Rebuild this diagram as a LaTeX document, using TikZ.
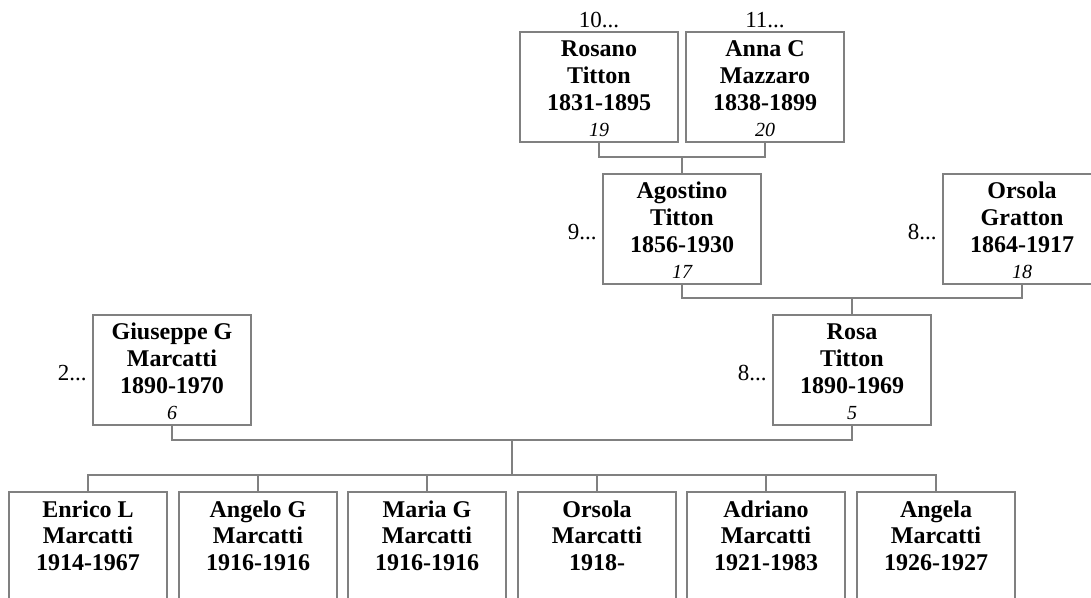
\documentclass[tikz,border=0pt]{standalone}
\usepackage{fontspec}
\setmainfont{Liberation Serif}
\usetikzlibrary{positioning}

% one box of the chart, text set from the top
\newcommand{\card}[1]{\parbox[t][55pt][t]{79pt}{\centering\rule{0pt}{12.5pt}#1}}
\newcommand{\refno}[1]{{\normalfont\itshape\fontsize{10pt}{13.3pt}\selectfont #1}}

\begin{document}
\begin{tikzpicture}[x=0.5pt,y=-0.5pt,
    person/.style={draw=black!50,line width=0.65pt,inner sep=0pt,outer sep=0pt,
                   font=\bfseries\fontsize{12pt}{13.3pt}\selectfont},
    tag/.style={inner sep=0pt,font=\fontsize{11.5pt}{13pt}\selectfont},
    link/.style={draw=black!50,line width=0.65pt}
  ]
  \clip (0,0) rectangle (1091,598);

  % great-grandparents
  \node[person] (rosano) at (599,87) {\card{Rosano\\Titton\\1831-1895\\\refno{19}}};
  \node[person] (anna) at (765,87) {\card{Anna C\\Mazzaro\\1838-1899\\\refno{20}}};
  \node[tag, above=2pt of rosano] {10...};
  \node[tag, above=2pt of anna] {11...};

  % grandparents
  \node[person] (agostino) at (682,229) {\card{Agostino\\Titton\\1856-1930\\\refno{17}}};
  \node[person] (orsolag) at (1022,229) {\card{Orsola\\Gratton\\1864-1917\\\refno{18}}};
  \node[tag, left=3pt of agostino, yshift=-1.5pt] {9...};
  \node[tag, left=3pt of orsolag, yshift=-1.5pt] {8...};

  % parents
  \node[person] (giuseppe) at (172,370) {\card{Giuseppe G\\Marcatti\\1890-1970\\\refno{6}}};
  \node[person] (rosa) at (852,370) {\card{Rosa\\Titton\\1890-1969\\\refno{5}}};
  \node[tag, left=3pt of giuseppe, yshift=-1.5pt] {2...};
  \node[tag, left=3pt of rosa, yshift=-1.5pt] {8...};

  % children
  \node[person] (enrico) at (88,547) {\card{Enrico L\\Marcatti\\1914-1967}};
  \node[person] (angelo) at (258,547) {\card{Angelo G\\Marcatti\\1916-1916}};
  \node[person] (maria) at (427,547) {\card{Maria G\\Marcatti\\1916-1916}};
  \node[person] (orsola) at (597,547) {\card{Orsola\\Marcatti\\1918-}};
  \node[person] (adriano) at (766,547) {\card{Adriano\\Marcatti\\1921-1983}};
  \node[person] (angela) at (936,547) {\card{Angela\\Marcatti\\1926-1927}};

  % family lines
  \coordinate (j1) at (682,157);
  \draw[link] (rosano.south) |- (j1) -| (anna.south);
  \draw[link] (j1) -- (agostino.north);
  \coordinate (j2) at (852,298);
  \draw[link] (agostino.south) |- (j2) -| (orsolag.south);
  \draw[link] (j2) -- (rosa.north);
  \coordinate (j3) at (512,440);
  \draw[link] (giuseppe.south) |- (j3) -| (rosa.south);
  \coordinate (j4) at (512,475);
  \draw[link] (j3) -- (j4);
  \draw[link] (enrico.north) |- (j4) -| (angela.north);
  \foreach \c in {angelo,maria,orsola,adriano}
    \draw[link] (\c.north) -- (\c.north |- j4);
\end{tikzpicture}
\end{document}
